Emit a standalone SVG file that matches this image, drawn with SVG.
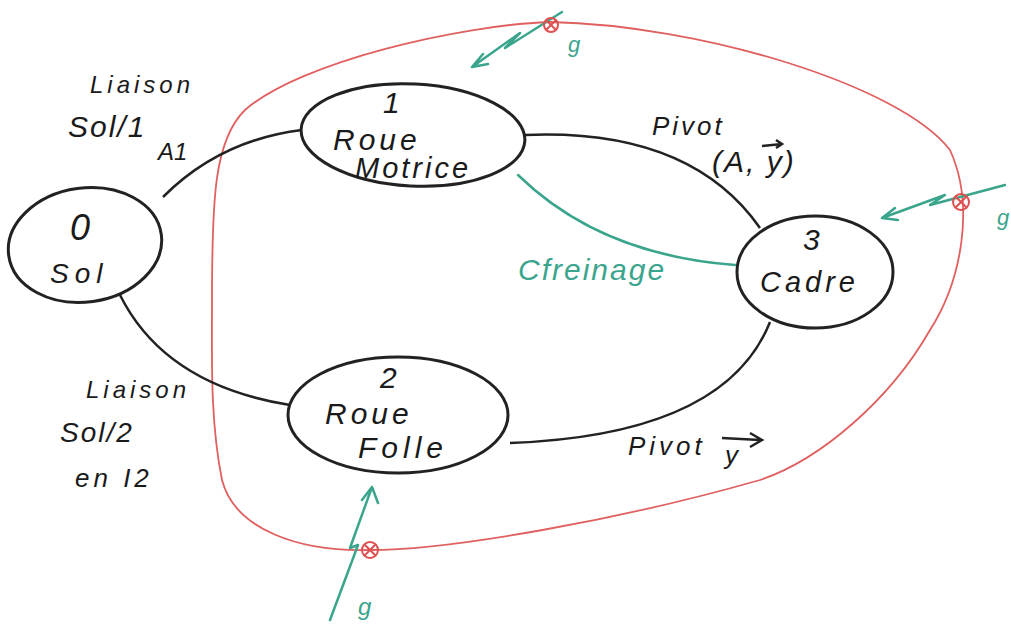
<svg xmlns="http://www.w3.org/2000/svg" width="1011" height="625" viewBox="0 0 1011 625">
<style>
.node{fill:none;stroke:#222;stroke-width:3}
.edge{fill:none;stroke:#222;stroke-width:2.5}
.grn{fill:none;stroke:#3aa58c;stroke-width:2.5;stroke-linecap:round;stroke-linejoin:round}
.red{fill:none;stroke:#e06060;stroke-width:1.8}
.t{font-family:"Liberation Sans",Arial,sans-serif;fill:#1a1a1a;font-style:italic}
.tg{font-family:"Liberation Sans",Arial,sans-serif;fill:#3aa58c;font-style:italic}
.mk{fill:none;stroke:#e05050;stroke-width:2}
</style>
<rect width="1011" height="625" fill="#fff"/>
<g id="boundary">
<path class="red" d="M212,300 C212,200 214,140 245,110 C300,62 460,25 550,22 C700,25 900,85 950,150 C975,205 962,280 930,330 C890,400 820,460 760,480 C620,520 450,550 370,550 C300,552 235,530 222,480 C210,420 212,360 212,300 Z"/>
</g>
<g id="connectors">
<path class="edge" d="M163,197 Q220,140 302,130"/>
<path class="edge" d="M120,295 Q165,385 290,405"/>
<path class="edge" d="M525,135 Q690,128 760,228"/>
<path class="edge" d="M510,443 Q725,435 770,322"/>
<path class="grn" d="M518,175 Q600,255 735,265"/>
</g>
<g id="n0">
<ellipse class="node" cx="85" cy="245" rx="77" ry="57" transform="rotate(-8 85 245)"/>
<text class="t" x="70" y="240" font-size="36">0</text>
<text class="t" x="50" y="283" font-size="28" letter-spacing="6">Sol</text>
</g>
<g id="n1">
<ellipse class="node" cx="413" cy="135" rx="112" ry="51" transform="rotate(3 413 135)"/>
<text class="t" x="383" y="113" font-size="30">1</text>
<text class="t" x="333" y="150" font-size="30" letter-spacing="4">Roue</text>
<text class="t" x="355" y="178" font-size="29" letter-spacing="3">Motrice</text>
</g>
<g id="n2">
<ellipse class="node" cx="398" cy="415" rx="110" ry="58"/>
<text class="t" x="380" y="388" font-size="30">2</text>
<text class="t" x="325" y="424" font-size="30" letter-spacing="4">Roue</text>
<text class="t" x="358" y="458" font-size="30" letter-spacing="5">Folle</text>
</g>
<g id="n3">
<ellipse class="node" cx="815" cy="272" rx="78" ry="56"/>
<text class="t" x="803" y="250" font-size="30">3</text>
<text class="t" x="760" y="292" font-size="29" letter-spacing="4">Cadre</text>
</g>
<g id="labels">
<text class="t" x="90" y="93" font-size="24" letter-spacing="4">Liaison</text>
<text class="t" x="68" y="137" font-size="30" letter-spacing="2">Sol/1</text>
<text class="t" x="158" y="160" font-size="24">A1</text>
<text class="t" x="652" y="135" font-size="26" letter-spacing="3">Pivot</text>
<text class="t" x="712" y="172" font-size="30" letter-spacing="2">(A, y)</text>
<path class="edge" d="M762,146 L782,144 M776,140 L782,144 L776,148"/>
<text class="tg" x="518" y="280" font-size="30" letter-spacing="2">Cfreinage</text>
<text class="t" x="628" y="455" font-size="26" letter-spacing="4">Pivot</text>
<text class="t" x="725" y="464" font-size="26">y</text>
<path class="edge" d="M722,438 L760,440 M750,433 L762,440 L750,447" stroke-width="3"/>
<text class="t" x="86" y="398" font-size="24" letter-spacing="4">Liaison</text>
<text class="t" x="60" y="442" font-size="28" letter-spacing="2">Sol/2</text>
<text class="t" x="75" y="487" font-size="26" letter-spacing="4">en I2</text>
</g>
<g id="loads">
<path class="grn" d="M562,12 L505,48 L520,33 L472,67 M472,67 L483,54 M472,67 L488,64"/>
<path class="grn" d="M1005,185 L930,205 L945,195 L882,218 M882,218 L895,208 M882,218 L898,220"/>
<path class="grn" d="M330,620 L358,545 L350,548 L372,487 M372,487 L362,500 M372,487 L378,503"/>
<g class="mk">
<circle cx="551" cy="25" r="7"/><path d="M546,20 L556,30 M556,20 L546,30"/>
<circle cx="961" cy="202" r="8"/><path d="M955,196 L967,208 M967,196 L955,208"/>
<circle cx="370" cy="550" r="8"/><path d="M364,544 L376,556 M376,544 L364,556"/>
</g>
<text class="tg" x="568" y="52" font-size="22">g</text>
<text class="tg" x="997" y="225" font-size="22">g</text>
<text class="tg" x="358" y="615" font-size="24">g</text>
</g>
</svg>
